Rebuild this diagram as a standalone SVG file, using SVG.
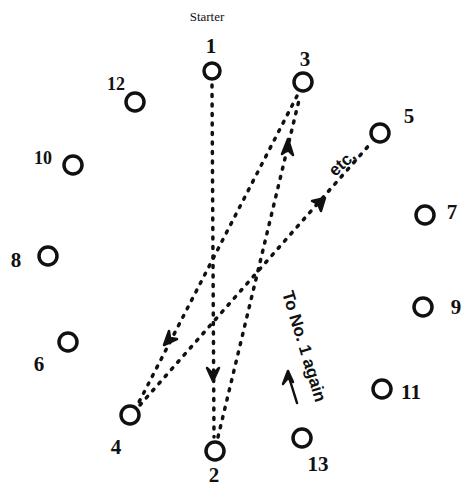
<svg xmlns="http://www.w3.org/2000/svg" width="469" height="488" viewBox="0 0 469 488">
<style>
.n{fill:none;stroke:#111;stroke-width:3.5}
.l{font-family:"Liberation Serif",serif;font-weight:bold;font-size:21px;fill:#111;text-anchor:middle}
.c{fill:none;stroke:#111;stroke-width:3.5;stroke-dasharray:2 7.5;stroke-linecap:round}
.a{fill:#111;stroke:#111;stroke-width:2.5;stroke-linecap:round;stroke-linejoin:round}
.t{font-family:"Liberation Sans",sans-serif;font-weight:bold;font-size:17px;fill:#111}
</style>
<rect width="469" height="488" fill="#fff"/>
<text x="207" y="21" style="font-family:'Liberation Serif',serif;font-size:13px;fill:#111;text-anchor:middle">Starter</text>
<g id="n1"><circle class="n" cx="212" cy="71" r="8"/><text class="l" x="211" y="53">1</text></g>
<g id="n3"><circle class="n" cx="303" cy="82" r="9"/><text class="l" x="305" y="66">3</text></g>
<g id="n12"><circle class="n" cx="135" cy="102" r="9"/><text class="l" x="116" y="90" style="font-size:18px">12</text></g>
<g id="n5"><circle class="n" cx="380" cy="133" r="9"/><text class="l" x="409" y="123">5</text></g>
<g id="n10"><circle class="n" cx="73" cy="165" r="9"/><text class="l" x="43" y="164" style="font-size:18px">10</text></g>
<g id="n7"><circle class="n" cx="425" cy="215" r="9"/><text class="l" x="452" y="219">7</text></g>
<g id="n8"><circle class="n" cx="48" cy="256" r="9"/><text class="l" x="16" y="267">8</text></g>
<g id="n9"><circle class="n" cx="423" cy="307" r="9"/><text class="l" x="456" y="314">9</text></g>
<g id="n6"><circle class="n" cx="68" cy="342" r="9"/><text class="l" x="39" y="371">6</text></g>
<g id="n11"><circle class="n" cx="382" cy="389" r="9"/><text class="l" x="411" y="399">11</text></g>
<g id="n4"><circle class="n" cx="130" cy="415" r="9"/><text class="l" x="116" y="454">4</text></g>
<g id="n13"><circle class="n" cx="302" cy="438" r="9"/><text class="l" x="318" y="471">13</text></g>
<g id="n2"><circle class="n" cx="215" cy="451" r="9"/><text class="l" x="214" y="482">2</text></g>
<g id="connectors">
<path class="c" d="M212 85 L214 437"/>
<path class="c" d="M218 437 L300 96"/>
<path class="c" d="M297 96 L138 404"/>
<path class="c" d="M140 405 L371 143"/>
<path class="a" d="M207 368 L213 381 L219 368 L213 374 Z"/>
<path class="a" d="M282 154 L288 139 L293 155 L288 150 Z"/>
<path class="a" d="M169 331 L164 345 L177 339 L170 338 Z"/>
<path class="a" d="M312 201 L325 198 L321 211 L318 204 Z"/>
<path class="a" d="M297 403 L288 374"/>
<path class="a" d="M283 384 L288 371 L293 382 L288 378 Z"/>
<text class="t" transform="translate(335 177) rotate(-42)">etc,</text>
<text class="t" transform="translate(282 293) rotate(73)">To No. 1 again</text>
</g>
</svg>
